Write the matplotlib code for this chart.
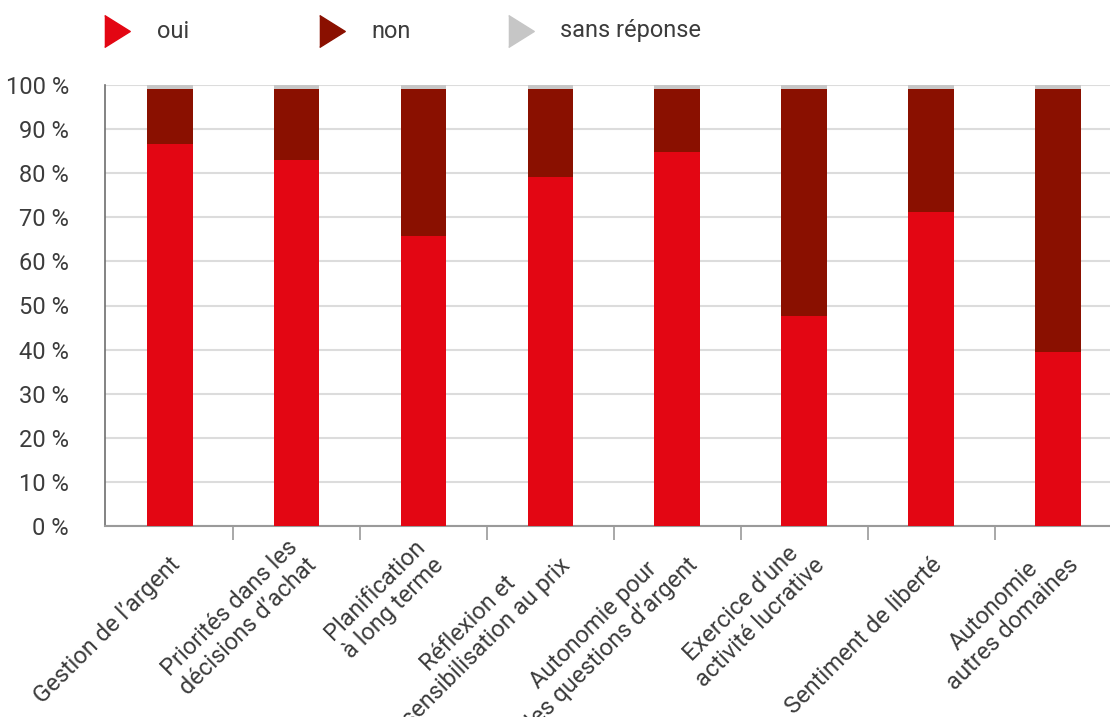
import matplotlib
matplotlib.use("Agg")
import matplotlib.pyplot as plt
from matplotlib.lines import Line2D
from matplotlib import transforms
import numpy as np

plt.rcParams['font.family'] = ['Roboto', 'DejaVu Sans']

categories = [
    "Gestion de l’argent",
    "Priorités dans les\ndécisions d’achat",
    "Planification\nà long terme",
    "Réflexion et\nsensibilisation au prix",
    "Autonomie pour\nles questions d’argent",
    "Exercice d’une\nactivité lucrative",
    "Sentiment de liberté",
    "Autonomie\nautres domaines",
]
oui = [86.6, 83.0, 65.7, 79.1, 84.8, 47.7, 71.2, 39.5]
non = [12.5, 16.1, 33.4, 20.0, 14.3, 51.4, 27.9, 59.6]
sans_reponse = [0.9, 0.9, 0.9, 0.9, 0.9, 0.9, 0.9, 0.9]
series_names = ["oui", "non", "sans réponse"]
colors = ["#E30613", "#8A1000", "#C6C6C6"]
text_color = "#3C3C3C"

fig = plt.figure(figsize=(11.10, 7.17), dpi=100)
ax = fig.add_axes([105 / 1110, 191 / 717, 1005 / 1110, 441 / 717])

x = np.arange(len(categories))
w = 0.36
bottom = np.zeros(len(categories))
for vals, col in zip([oui, non, sans_reponse], colors):
    ax.bar(x, vals, w, bottom=bottom, color=col, zorder=3)
    bottom += np.array(vals)

ax.set_xlim(-0.51, 7.41)
ax.set_ylim(0, 100)
ax.set_yticks(range(0, 101, 10))
ax.set_yticklabels([f"{v} %" for v in range(0, 101, 10)], fontsize=17, color=text_color)
ax.tick_params(axis='y', length=0, pad=26)
ax.yaxis.grid(True, color="#DCDCDC", linewidth=1.5, zorder=0)
ax.set_axisbelow(True)

# no tick marks at the centres, small ones between the categories
ax.set_xticks(x)
ax.set_xticklabels([])
ax.tick_params(axis='x', length=0)
ax.set_xticks(np.arange(0.5, 7.5, 1), minor=True)
ax.tick_params(axis='x', which='minor', length=10, color="#9A9A9A", width=1.2)

# rotated labels, top right corner hung under each bar
for xi, lab in zip(x, categories):
    if "\n" in lab:
        dx, dy = -10, -9
    else:
        dx, dy = -1, -27
    off = transforms.ScaledTranslation(dx / 100, dy / 100, fig.dpi_scale_trans)
    ax.text(xi, 0, lab, rotation=45, rotation_mode='anchor', ha='right', va='top',
            multialignment='center', fontsize=17, color=text_color,
            transform=ax.get_xaxis_transform() + off, linespacing=1.17)

for side in ['top', 'right']:
    ax.spines[side].set_visible(False)
ax.spines['left'].set_color("#6E6E6E")
ax.spines['left'].set_linewidth(1.2)
ax.spines['bottom'].set_color("#9A9A9A")
ax.spines['bottom'].set_linewidth(1.5)

# legend drawn by hand
tri = [(-0.8, -1), (0.8, 0), (-0.8, 1)]
legend_x = [117 / 1110, 332 / 1110, 521 / 1110]
text_x = [157 / 1110, 371 / 1110, 560 / 1110]
ly = 1 - 31 / 717
for name, col, mx, tx in zip(series_names, colors, legend_x, text_x):
    fig.add_artist(Line2D([mx], [ly], marker=tri, markersize=23, color=col,
                          linestyle='none', transform=fig.transFigure))
    fig.text(tx, ly, name, fontsize=17, color=text_color, va='center', ha='left')

fig.savefig("out.png", dpi=100)
